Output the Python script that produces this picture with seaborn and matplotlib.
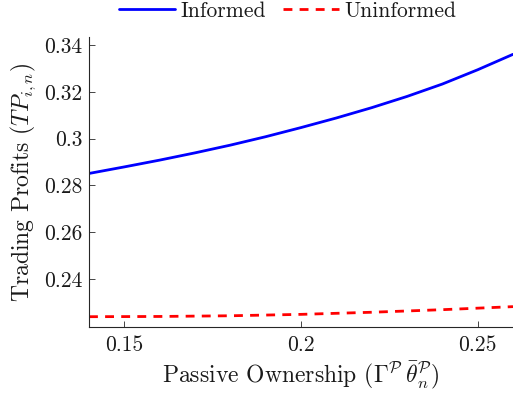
import numpy as np
import pandas as pd
import matplotlib
matplotlib.use("Agg")
import matplotlib.pyplot as plt
import seaborn as sns

# Data
x_informed = [0.14, 0.15, 0.16, 0.17, 0.18, 0.19, 0.20, 0.21, 0.22, 0.23, 0.24, 0.25, 0.26]
informed = [0.2851, 0.2879, 0.2908, 0.2939, 0.2972, 0.3008, 0.3047, 0.3088, 0.3132, 0.3180, 0.3233, 0.3294, 0.3360]
x_uninformed = [0.14, 0.16, 0.18, 0.20, 0.22, 0.24, 0.26]
uninformed = [0.2239, 0.2240, 0.2243, 0.2249, 0.2258, 0.2269, 0.2282]

x_ticks = [0.15, 0.2, 0.25]
x_tick_labels = ["0.15", "0.2", "0.25"]
y_ticks = [0.24, 0.26, 0.28, 0.30, 0.32, 0.34]
y_tick_labels = ["0.24", "0.26", "0.28", "0.3", "0.32", "0.34"]

sns.set_theme(style="ticks")
plt.rcParams['font.family'] = ['cmr10', 'DejaVu Serif']
plt.rcParams['mathtext.fontset'] = 'cm'
plt.rcParams['axes.formatter.use_mathtext'] = True
plt.rcParams['xtick.direction'] = 'in'
plt.rcParams['ytick.direction'] = 'in'

df1 = pd.DataFrame({"x": x_informed, "y": informed, "s": "Informed"})
df2 = pd.DataFrame({"x": x_uninformed, "y": uninformed, "s": "Uninformed"})

fig = plt.figure(figsize=(5.13, 3.96), dpi=100)
ax = fig.add_axes([89 / 513, 1 - 327 / 396, (513 - 89) / 513, (327 - 37) / 396])

sns.lineplot(data=df1, x="x", y="y", ax=ax, color="#0000ff", lw=2.0, label="Informed")
sns.lineplot(data=df2, x="x", y="y", ax=ax, color="#ff0000", lw=2.0,
             linestyle=(0, (3.2, 2.6)), label="Uninformed")

ax.set_xlim(0.14, 0.26)
ax.set_ylim(0.2195, 0.3434)
ax.set_xticks(x_ticks)
ax.set_xticklabels(x_tick_labels)
ax.set_yticks(y_ticks)
ax.set_yticklabels(y_tick_labels)
ax.tick_params(axis='both', labelsize=15.5, length=4, width=0.6, color="#262626",
               labelcolor="#1a1a1a")
ax.tick_params(axis='x', pad=6)
ax.tick_params(axis='y', pad=5)
for side in ["top", "right"]:
    ax.spines[side].set_visible(False)
for side in ["left", "bottom"]:
    ax.spines[side].set_linewidth(0.8)
    ax.spines[side].set_color("#262626")

ax.set_xlabel(r"Passive Ownership ($\Gamma^{\mathcal{P}}\,\bar{\theta}_n^{\mathcal{P}}$)",
              fontsize=17, color="#1a1a1a", labelpad=3)
ax.set_ylabel(r"Trading Profits ($TP_{i,n}$)", fontsize=17, color="#1a1a1a", labelpad=4)

leg = ax.legend(loc="center", bbox_to_anchor=(0.469, 1.09), ncol=2, frameon=False,
                fontsize=15.5, handlelength=2.6, handletextpad=0.25, columnspacing=0.8,
                borderaxespad=0.0, borderpad=0.0)
for t in leg.get_texts():
    t.set_color("#1a1a1a")

fig.savefig("out.png", dpi=100)
